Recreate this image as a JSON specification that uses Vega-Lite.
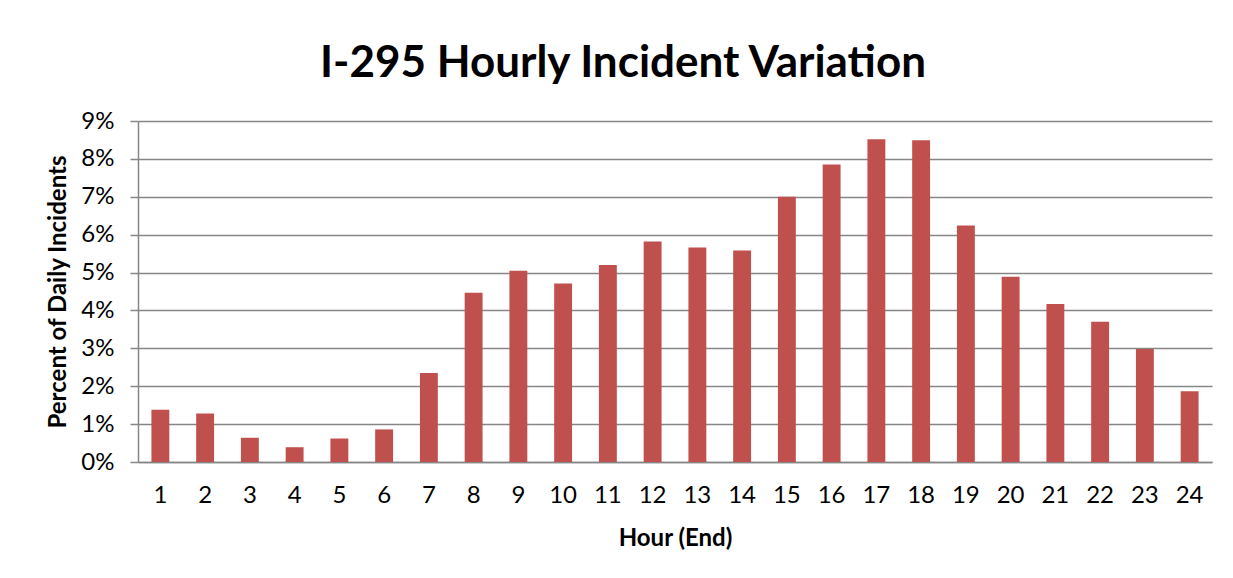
{
  "$schema": "https://vega.github.io/schema/vega-lite/v6.json",
  "width": 1074,
  "height": 341,
  "autosize": {"type": "none"},
  "padding": {"left": 138, "top": 121, "right": 21, "bottom": 116},
  "background": "white",
  "title": {
    "text": "I-295 Hourly Incident Variation",
    "font": "Lato",
    "fontSize": 44,
    "fontWeight": "bold",
    "color": "#000000",
    "anchor": "middle",
    "dx": -52,
    "offset": 23
  },
  "data": {
    "values": [
      {"hour": "1", "pct": 0.0138},
      {"hour": "2", "pct": 0.0128},
      {"hour": "3", "pct": 0.0064},
      {"hour": "4", "pct": 0.0039},
      {"hour": "5", "pct": 0.0062},
      {"hour": "6", "pct": 0.0086},
      {"hour": "7", "pct": 0.0235},
      {"hour": "8", "pct": 0.0447},
      {"hour": "9", "pct": 0.0505},
      {"hour": "10", "pct": 0.0471},
      {"hour": "11", "pct": 0.052},
      {"hour": "12", "pct": 0.0582},
      {"hour": "13", "pct": 0.0566},
      {"hour": "14", "pct": 0.0558},
      {"hour": "15", "pct": 0.07},
      {"hour": "16", "pct": 0.0785},
      {"hour": "17", "pct": 0.0852},
      {"hour": "18", "pct": 0.0849},
      {"hour": "19", "pct": 0.0624},
      {"hour": "20", "pct": 0.0489},
      {"hour": "21", "pct": 0.0417},
      {"hour": "22", "pct": 0.037},
      {"hour": "23", "pct": 0.0298},
      {"hour": "24", "pct": 0.0187}
    ]
  },
  "mark": {"type": "bar", "color": "#C0504D"},
  "encoding": {
    "x": {
      "field": "hour",
      "type": "ordinal",
      "sort": null,
      "scale": {"paddingInner": 0.6, "paddingOuter": 0.3},
      "axis": {
        "title": "Hour (End)",
        "labelAngle": 0,
        "labelFont": "Lato",
        "labelFontSize": 24,
        "labelColor": "#000000",
        "labelPadding": 21,
        "ticks": false,
        "domainColor": "#868686",
        "domainWidth": 1.5,
        "titleFont": "Lato",
        "titleFontSize": 24,
        "titleFontWeight": "bold",
        "titleColor": "#000000",
        "titlePadding": 19
      }
    },
    "y": {
      "field": "pct",
      "type": "quantitative",
      "scale": {"domain": [0, 0.09], "nice": false},
      "axis": {
        "title": "Percent of Daily Incidents",
        "format": ".0%",
        "values": [0, 0.01, 0.02, 0.03, 0.04, 0.05, 0.06, 0.07, 0.08, 0.09],
        "labelFont": "Lato",
        "labelFontSize": 24,
        "labelColor": "#000000",
        "labelPadding": 16,
        "tickSize": 8,
        "tickColor": "#868686",
        "tickWidth": 1.5,
        "grid": true,
        "gridColor": "#868686",
        "gridWidth": 1.5,
        "gridOpacity": 1,
        "domainColor": "#868686",
        "domainWidth": 1.5,
        "titleFont": "Lato",
        "titleFontSize": 24,
        "titleFontWeight": "bold",
        "titleColor": "#000000",
        "titlePadding": 10
      }
    }
  },
  "config": {"view": {"stroke": null}}
}
